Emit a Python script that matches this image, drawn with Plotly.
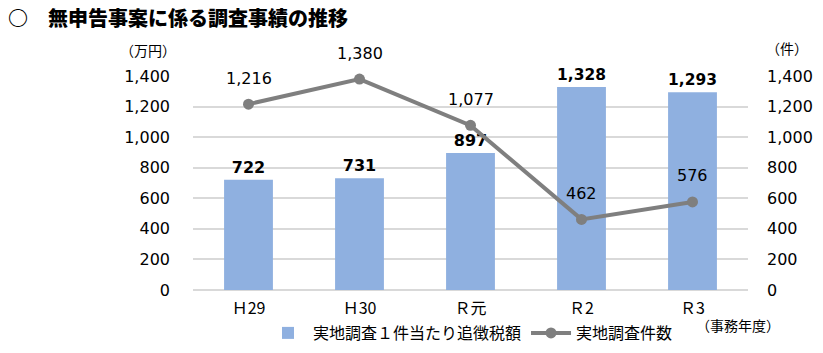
import plotly.graph_objects as go

categories = ["Ｈ29", "Ｈ30", "Ｒ元", "Ｒ2", "Ｒ3"]
tax_per_case = [722, 731, 897, 1328, 1293]        # 万円
case_counts = [1216, 1380, 1077, 462, 576]        # 件
tick_vals = [0, 200, 400, 600, 800, 1000, 1200, 1400]

FONT = "DejaVu Sans, Noto Sans CJK JP, sans-serif"
BAR_COLOR = "#8FB0E0"
LINE_COLOR = "#7F7F7F"

fig = go.Figure()
fig.add_trace(go.Bar(
    x=categories, y=tax_per_case, name="実地調査１件当たり追徴税額",
    marker=dict(color=BAR_COLOR, line=dict(width=0)), width=0.44,
    text=[f"{v:,}" for v in tax_per_case], textposition="outside",
    textfont=dict(family=FONT, size=16, color="#000000", weight="bold"),
    cliponaxis=False, yaxis="y",
))
fig.add_trace(go.Scatter(
    x=categories, y=case_counts, name="実地調査件数", mode="lines+markers",
    line=dict(color=LINE_COLOR, width=4), marker=dict(color=LINE_COLOR, size=11),
    yaxis="y2", cliponaxis=False,
))
for c, v in zip(categories, case_counts):
    fig.add_annotation(x=c, y=v, xref="x", yref="y2", text=f"{v:,}", showarrow=False,
                       yshift=26, font=dict(family=FONT, size=16, color="#000000"))

fig.add_annotation(x=0, y=1, xref="paper", yref="paper", xanchor="left", yanchor="top",
                   xshift=-193 + 6, yshift=76 - 1, showarrow=False,
                   text="○　無申告事案に係る調査事績の推移",
                   font=dict(family="Noto Sans CJK JP", size=20, color="#000000", weight=900))
fig.add_annotation(x=0, y=1, xref="paper", yref="paper", xanchor="center", yanchor="middle",
                   xshift=-45, yshift=26, showarrow=False, text="（万円）",
                   font=dict(family="Noto Sans CJK JP", size=14, color="#000000"))
fig.add_annotation(x=1, y=1, xref="paper", yref="paper", xanchor="center", yanchor="middle",
                   xshift=39, yshift=28, showarrow=False, text="（件）",
                   font=dict(family="Noto Sans CJK JP", size=14, color="#000000"))
fig.add_annotation(x=1, y=0, xref="paper", yref="paper", xanchor="center", yanchor="middle",
                   xshift=-10, yshift=-35, showarrow=False, text="（事務年度）",
                   font=dict(family="Noto Sans CJK JP", size=14, color="#000000"))

axis_font = dict(family=FONT, size=16, color="#000000")
fig.update_layout(
    width=823, height=353,
    margin=dict(l=193, r=75, t=76, b=63, autoexpand=False),
    paper_bgcolor="white", plot_bgcolor="white",
    showlegend=True,
    legend=dict(orientation="h", x=0.5, xanchor="center", yref="container",
                y=20 / 353, yanchor="middle", bgcolor="rgba(0,0,0,0)",
                font=dict(family="Noto Sans CJK JP", size=16, color="#000000"),
                itemwidth=40, traceorder="normal"),
    xaxis=dict(type="category", showgrid=False, showline=False, ticks="",
               tickfont=dict(family="Noto Sans CJK JP", size=16, color="#000000"),
               ticklabelstandoff=7),
    yaxis=dict(range=[0, 1400], tickvals=tick_vals, tickformat=",", showgrid=True,
               gridcolor="#D9D9D9", gridwidth=1.5, zeroline=True, zerolinecolor="#D9D9D9",
               zerolinewidth=1.5, showline=False, ticks="", tickfont=axis_font,
               ticklabelstandoff=22),
    yaxis2=dict(range=[0, 1400], tickvals=tick_vals, tickformat=",", overlaying="y",
                side="right", showgrid=False, zeroline=False, showline=False, ticks="",
                tickfont=axis_font, ticklabelstandoff=18),
)
fig.write_html("out.html")
